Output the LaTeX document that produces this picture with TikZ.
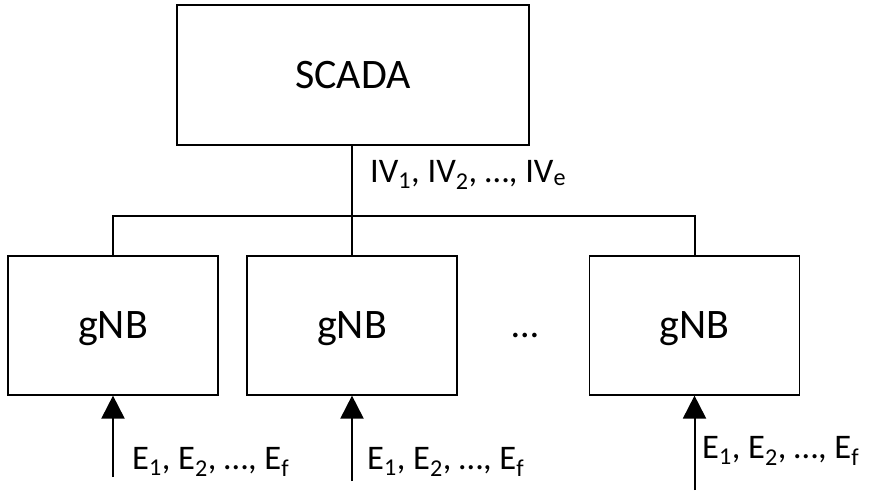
\documentclass[tikz,border=0pt]{standalone}
\usepackage{fontspec}
\setmainfont{Carlito}
\usetikzlibrary{arrows.meta}
\begin{document}
\begin{tikzpicture}[x=1pt,y=-1pt,
  box/.style={draw, line width=1.2pt, inner sep=0pt, font=\fontsize{42}{46}\selectfont,
    text height=26pt, text depth=0pt},
  bigbox/.style={box, minimum width=352pt, minimum height=140pt},
  gbox/.style={box, minimum width=210pt, minimum height=139pt},
  wire/.style={line width=2pt},
  arr/.style={line width=2pt, -{Triangle[length=23pt,width=23pt]}},
  lbl/.style={font=\fontsize{34.5}{38}\selectfont, inner sep=0pt, anchor=base west}]
\useasboundingbox (0,0) rectangle (875,493);
\node[bigbox] (scada) at (353,75) {SCADA};
\node[gbox] (g1) at (113,325.5) {gNB};
\node[gbox] (g2) at (352,325.5) {gNB};
\node[gbox] (g3) at (694.5,325.5) {gNB};
\node[font=\fontsize{38}{42}\selectfont, inner sep=0pt, anchor=base] (dots) at (525,337) {…};
\draw[wire] (scada.south -| g2.north) -- (g2.north);
\draw[wire] (g1.north) -- ++(0,-39) -| (g3.north);
\coordinate (s1) at (113,477);
\coordinate (s2) at (352,481);
\coordinate (s3) at (694.5,490);
\draw[arr] (s1) -- (g1.south);
\draw[arr] (s2) -- (g2.south);
\draw[arr] (s3) -- (g3.south);
\node[lbl] (iv) at (370,182) {IV\textsubscript{1}, IV\textsubscript{2}, …, IV\textsubscript{e}};
\node[lbl] (e1) at (132,469) {E\textsubscript{1}, E\textsubscript{2}, …, E\textsubscript{f}};
\node[lbl] (e2) at (367,469) {E\textsubscript{1}, E\textsubscript{2}, …, E\textsubscript{f}};
\node[lbl] (e3) at (702,458) {E\textsubscript{1}, E\textsubscript{2}, …, E\textsubscript{f}};
\end{tikzpicture}
\end{document}
